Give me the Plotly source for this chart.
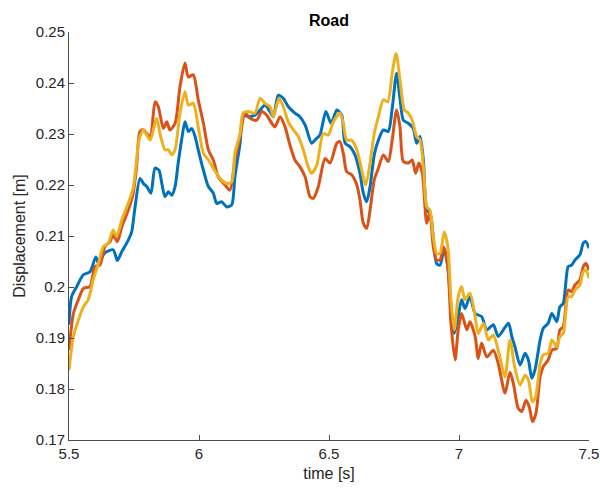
import plotly.graph_objects as go

# Series 1 (blue)
t_blue = [5.500, 5.510, 5.530, 5.555, 5.581, 5.603, 5.613, 5.638, 5.670, 5.686,
          5.703, 5.728, 5.741, 5.754, 5.773, 5.786, 5.799, 5.815, 5.831, 5.846,
          5.857, 5.869, 5.882, 5.895, 5.908, 5.920, 5.933, 5.946, 5.959, 5.972,
          5.985, 5.997, 6.017, 6.036, 6.055, 6.068, 6.087, 6.107, 6.126, 6.138,
          6.158, 6.170, 6.190, 6.215, 6.235, 6.254, 6.273, 6.286, 6.305, 6.324,
          6.343, 6.369, 6.388, 6.408, 6.433, 6.446, 6.465, 6.488, 6.508, 6.530,
          6.549, 6.562, 6.581, 6.600, 6.619, 6.632, 6.645, 6.658, 6.674, 6.690,
          6.709, 6.728, 6.743, 6.760, 6.773, 6.786, 6.805, 6.824, 6.837, 6.850,
          6.863, 6.876, 6.888, 6.895, 6.914, 6.927, 6.943, 6.957, 6.969, 6.982,
          6.997, 7.010, 7.023, 7.042, 7.062, 7.087, 7.107, 7.132, 7.151, 7.190,
          7.203, 7.215, 7.235, 7.254, 7.267, 7.280, 7.292, 7.312, 7.324, 7.343,
          7.357, 7.376, 7.388, 7.401, 7.420, 7.433, 7.446, 7.465, 7.478, 7.488,
          7.500]
v_blue = [0.1926, 0.1981, 0.2001, 0.2024, 0.2030, 0.2059, 0.2047, 0.2067, 0.2073, 0.2052,
          0.2069, 0.2092, 0.2108, 0.2157, 0.2213, 0.2203, 0.2197, 0.2184, 0.2233, 0.2229,
          0.2203, 0.2177, 0.2187, 0.2180, 0.2197, 0.2243, 0.2288, 0.2324, 0.2305, 0.2311,
          0.2295, 0.2269, 0.2229, 0.2197, 0.2184, 0.2164, 0.2167, 0.2157, 0.2161, 0.2216,
          0.2282, 0.2337, 0.2334, 0.2337, 0.2347, 0.2357, 0.2344, 0.2334, 0.2376, 0.2370,
          0.2354, 0.2341, 0.2334, 0.2318, 0.2282, 0.2288, 0.2298, 0.2344, 0.2321, 0.2347,
          0.2337, 0.2282, 0.2275, 0.2259, 0.2223, 0.2184, 0.2167, 0.2197, 0.2259, 0.2288,
          0.2308, 0.2305, 0.2350, 0.2419, 0.2370, 0.2327, 0.2321, 0.2311, 0.2282, 0.2295,
          0.2249, 0.2151, 0.2145, 0.2128, 0.2046, 0.2043, 0.2076, 0.2040, 0.1961, 0.1909,
          0.1942, 0.1975, 0.1958, 0.1981, 0.1948, 0.1942, 0.1916, 0.1926, 0.1903, 0.1929,
          0.1903, 0.1883, 0.1847, 0.1870, 0.1857, 0.1821, 0.1837, 0.1896, 0.1919, 0.1929,
          0.1948, 0.1932, 0.1961, 0.1968, 0.2040, 0.2043, 0.2053, 0.2063, 0.2086, 0.2089,
          0.2076]

# Series 2 (red)
t_red = [5.500, 5.517, 5.536, 5.555, 5.581, 5.600, 5.619, 5.638, 5.658, 5.670,
         5.686, 5.703, 5.728, 5.747, 5.760, 5.773, 5.786, 5.812, 5.831, 5.843,
         5.863, 5.876, 5.888, 5.908, 5.927, 5.946, 5.959, 5.978, 5.997, 6.017,
         6.036, 6.055, 6.074, 6.100, 6.119, 6.138, 6.158, 6.177, 6.196, 6.222,
         6.241, 6.260, 6.280, 6.292, 6.312, 6.331, 6.350, 6.369, 6.388, 6.408,
         6.427, 6.440, 6.459, 6.485, 6.504, 6.530, 6.542, 6.555, 6.568, 6.587,
         6.607, 6.619, 6.632, 6.645, 6.658, 6.674, 6.690, 6.709, 6.728, 6.743,
         6.760, 6.773, 6.786, 6.805, 6.820, 6.833, 6.846, 6.859, 6.876, 6.888,
         6.901, 6.914, 6.927, 6.940, 6.957, 6.969, 6.985, 6.997, 7.010, 7.030,
         7.042, 7.062, 7.074, 7.087, 7.107, 7.132, 7.151, 7.177, 7.196, 7.209,
         7.228, 7.241, 7.258, 7.270, 7.283, 7.296, 7.312, 7.324, 7.343, 7.357,
         7.376, 7.388, 7.401, 7.420, 7.433, 7.446, 7.465, 7.478, 7.488, 7.500]
v_red = [0.1876, 0.1948, 0.1975, 0.1997, 0.2001, 0.2040, 0.2043, 0.2079, 0.2089, 0.2102,
         0.2089, 0.2118, 0.2151, 0.2184, 0.2236, 0.2305, 0.2308, 0.2295, 0.2363, 0.2354,
         0.2311, 0.2324, 0.2308, 0.2321, 0.2393, 0.2439, 0.2412, 0.2416, 0.2367, 0.2321,
         0.2269, 0.2249, 0.2216, 0.2200, 0.2190, 0.2249, 0.2295, 0.2341, 0.2331, 0.2327,
         0.2344, 0.2337, 0.2321, 0.2314, 0.2334, 0.2314, 0.2278, 0.2249, 0.2236, 0.2216,
         0.2177, 0.2174, 0.2197, 0.2252, 0.2243, 0.2282, 0.2285, 0.2262, 0.2226, 0.2220,
         0.2200, 0.2171, 0.2125, 0.2115, 0.2151, 0.2210, 0.2233, 0.2259, 0.2246, 0.2288,
         0.2347, 0.2314, 0.2246, 0.2243, 0.2249, 0.2223, 0.2243, 0.2223, 0.2125, 0.2147,
         0.2079, 0.2053, 0.2053, 0.2079, 0.2040, 0.1929, 0.1857, 0.1916, 0.1948, 0.1916,
         0.1932, 0.1903, 0.1860, 0.1890, 0.1863, 0.1876, 0.1850, 0.1792, 0.1833, 0.1811,
         0.1762, 0.1756, 0.1778, 0.1765, 0.1736, 0.1752, 0.1824, 0.1844, 0.1857, 0.1876,
         0.1880, 0.1916, 0.1922, 0.1994, 0.1991, 0.2004, 0.2014, 0.2040, 0.2046, 0.2033]

# Series 3 (yellow)
t_yellow = [5.500, 5.517, 5.536, 5.555, 5.574, 5.593, 5.613, 5.632, 5.651, 5.670,
            5.683, 5.703, 5.728, 5.747, 5.760, 5.769, 5.786, 5.812, 5.837, 5.850,
            5.869, 5.882, 5.895, 5.908, 5.927, 5.946, 5.959, 5.978, 5.997, 6.017,
            6.036, 6.055, 6.081, 6.107, 6.126, 6.138, 6.158, 6.170, 6.190, 6.215,
            6.235, 6.254, 6.273, 6.286, 6.308, 6.324, 6.343, 6.363, 6.382, 6.401,
            6.420, 6.433, 6.453, 6.478, 6.497, 6.517, 6.542, 6.555, 6.568, 6.587,
            6.607, 6.626, 6.641, 6.658, 6.674, 6.690, 6.709, 6.726, 6.743, 6.758,
            6.773, 6.790, 6.805, 6.820, 6.837, 6.850, 6.863, 6.876, 6.888, 6.901,
            6.914, 6.927, 6.943, 6.957, 6.969, 6.982, 6.997, 7.010, 7.023, 7.042,
            7.062, 7.074, 7.094, 7.113, 7.132, 7.151, 7.177, 7.196, 7.215, 7.235,
            7.254, 7.267, 7.282, 7.295, 7.312, 7.324, 7.343, 7.357, 7.376, 7.388,
            7.401, 7.420, 7.433, 7.446, 7.465, 7.478, 7.488, 7.500]
v_yellow = [0.1837, 0.1903, 0.1935, 0.1961, 0.1975, 0.2014, 0.2046, 0.2079, 0.2086, 0.2112,
            0.2099, 0.2131, 0.2164, 0.2194, 0.2249, 0.2288, 0.2308, 0.2288, 0.2331, 0.2301,
            0.2269, 0.2269, 0.2259, 0.2269, 0.2341, 0.2383, 0.2357, 0.2360, 0.2314, 0.2262,
            0.2249, 0.2233, 0.2213, 0.2203, 0.2206, 0.2262, 0.2301, 0.2341, 0.2344, 0.2341,
            0.2370, 0.2360, 0.2354, 0.2334, 0.2370, 0.2354, 0.2324, 0.2308, 0.2295, 0.2269,
            0.2236, 0.2223, 0.2239, 0.2301, 0.2298, 0.2324, 0.2341, 0.2321, 0.2288, 0.2288,
            0.2269, 0.2229, 0.2200, 0.2243, 0.2301, 0.2334, 0.2367, 0.2363, 0.2419, 0.2458,
            0.2406, 0.2347, 0.2341, 0.2327, 0.2295, 0.2288, 0.2236, 0.2157, 0.2151, 0.2099,
            0.2066, 0.2066, 0.2108, 0.2079, 0.1975, 0.1916, 0.1981, 0.2001, 0.1975, 0.1988,
            0.1942, 0.1909, 0.1929, 0.1896, 0.1906, 0.1876, 0.1824, 0.1896, 0.1841, 0.1808,
            0.1827, 0.1818, 0.1775, 0.1785, 0.1850, 0.1867, 0.1870, 0.1896, 0.1883, 0.1903,
            0.1909, 0.1981, 0.1981, 0.1994, 0.2004, 0.2030, 0.2033, 0.2017]

x_tickvals = [5.5, 6, 6.5, 7, 7.5]
x_ticktext = ["5.5", "6", "6.5", "7", "7.5"]
y_tickvals = [0.17, 0.18, 0.19, 0.20, 0.21, 0.22, 0.23, 0.24, 0.25]
y_ticktext = ["0.17", "0.18", "0.19", "0.2", "0.21", "0.22", "0.23", "0.24", "0.25"]

colors = ["#0072BD", "#D95319", "#EDB120"]
FONT = "Liberation Sans, Arial, sans-serif"

fig = go.Figure()
for t, v, c in [(t_blue, v_blue, colors[0]), (t_red, v_red, colors[1]), (t_yellow, v_yellow, colors[2])]:
    fig.add_trace(go.Scatter(x=t, y=v, mode="lines",
                             line=dict(color=c, width=3, shape="spline", smoothing=0.7),
                             showlegend=False, hoverinfo="skip"))

axis_common = dict(showline=True, linecolor="#4d4d4d", linewidth=1, ticks="inside",
                   ticklen=5, tickcolor="#4d4d4d", showgrid=False, zeroline=False,
                   mirror=False, automargin=False,
                   tickfont=dict(family=FONT, size=15, color="#262626"))

fig.update_layout(
    width=600, height=493,
    margin=dict(l=69, r=11, t=32, b=53),
    paper_bgcolor="white", plot_bgcolor="white",
    font=dict(family=FONT, size=15, color="#262626"),
    title=dict(text="<b>Road</b>", x=329 / 600, xanchor="center",
               y=1 - 20 / 493, yanchor="middle", font=dict(family=FONT, size=16, color="black")),
    xaxis=dict(range=[5.5, 7.5], tickvals=x_tickvals, ticktext=x_ticktext,
               title=dict(text="time [s]", font=dict(family=FONT, size=16, color="#262626"), standoff=6),
               **axis_common),
    yaxis=dict(range=[0.17, 0.25], tickvals=y_tickvals, ticktext=y_ticktext,
               title=dict(text="Displacement [m]", font=dict(family=FONT, size=16, color="#262626"), standoff=6),
               **axis_common),
)

fig.write_html("out.html", config={"displayModeBar": False},
               post_script="document.body.style.margin='0';document.body.style.padding='0';")
